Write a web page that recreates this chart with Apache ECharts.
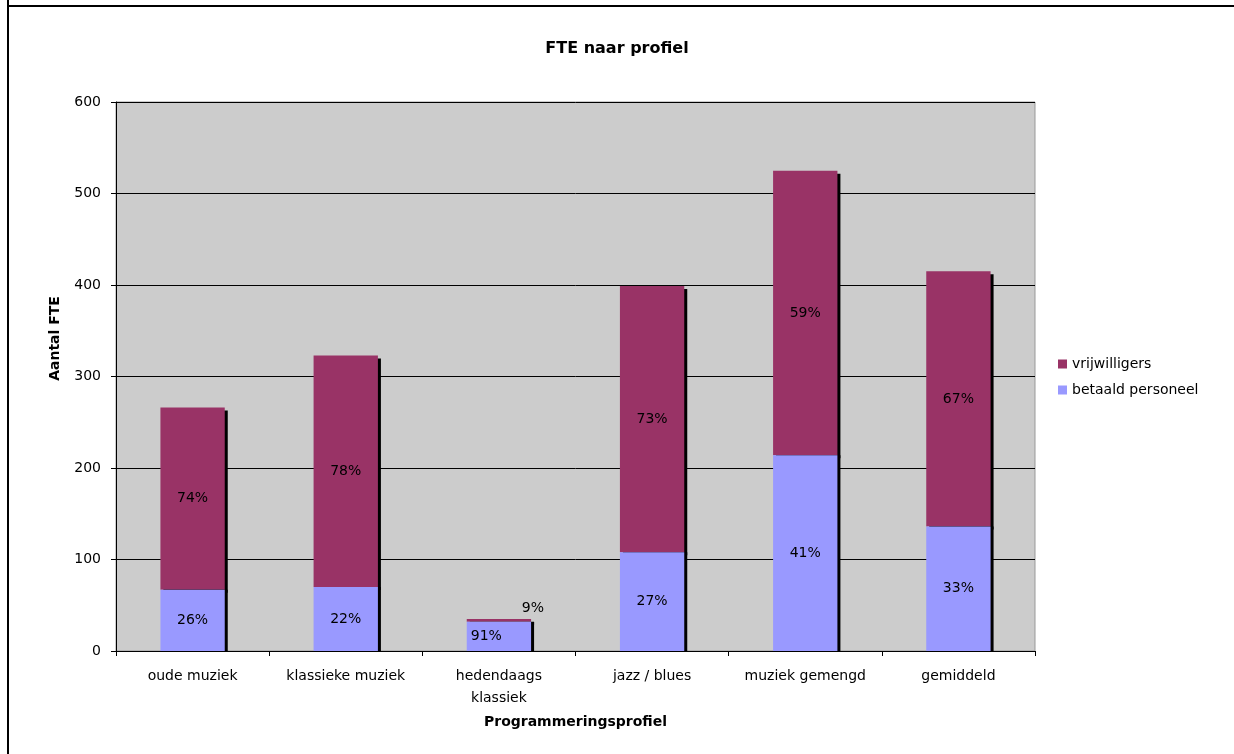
<!DOCTYPE html>
<html>
<head>
<meta charset="utf-8">
<script src="https://cdn.jsdelivr.net/npm/echarts@6/dist/echarts.min.js"></script>
<style>
  html, body { margin: 0; padding: 0; background: #fff; }
  #chart { width: 1234px; height: 754px; }
</style>
</head>
<body>
<div id="chart"></div>
<script>
// categorieen en waarden (FTE)
var categories = ["oude muziek", "klassieke muziek", "hedendaags\nklassiek", "jazz / blues", "muziek gemengd", "gemiddeld"];
var betaald = [67, 70, 32, 108, 214, 136];
var vrijwilligers = [199, 253, 3, 291, 311, 279];
// percentages zoals ze in de grafiek staan
var betaaldPct = ["26%", "22%", "91%", "27%", "41%", "33%"];
var vrijwilligersPct = ["74%", "78%", "9%", "73%", "59%", "67%"];
var yTicks = [0, 100, 200, 300, 400, 500, 600];

var font = "DejaVu Sans, Verdana, sans-serif";

var chart = echarts.init(document.getElementById("chart"));

var betaaldData = betaald.map(function (v, i) {
  var d = { value: v, pct: betaaldPct[i] };
  if (i === 2) {
    d.label = { position: "insideLeft", distance: 4 };
  }
  return d;
});
var vrijData = vrijwilligers.map(function (v, i) {
  var d = { value: v, pct: vrijwilligersPct[i] };
  if (i === 2) {
    d.label = { position: "top", distance: 4, offset: [34, 0] };
  }
  return d;
});

chart.setOption({
  animation: false,
  backgroundColor: "#fff",
  textStyle: { fontFamily: font },
  title: {
    text: "FTE naar profiel",
    left: "center",
    top: 36,
    textStyle: { fontSize: 16, fontWeight: "bold", color: "#000", fontFamily: font },
  },
  grid: {
    left: 116,
    right: 199,
    top: 102,
    bottom: 103,
    show: true,
    backgroundColor: "#CCCCCC",
    borderColor: "#999",
    borderWidth: 1,
  },
  legend: {
    orient: "vertical",
    left: 1053,
    top: 352,
    itemWidth: 9,
    itemHeight: 9,
    itemGap: 12,
    icon: "rect",
    data: ["vrijwilligers", "betaald personeel"],
    textStyle: { fontSize: 14, color: "#000", fontFamily: font },
  },
  xAxis: {
    type: "category",
    data: categories,
    name: "Programmeringsprofiel",
    nameLocation: "middle",
    nameGap: 64,
    nameTextStyle: { fontSize: 14, fontWeight: "bold", color: "#000" },
    axisLine: { lineStyle: { color: "#000", width: 1 } },
    axisTick: { show: true, length: 5, interval: 0, lineStyle: { color: "#000" } },
    axisLabel: { fontSize: 14, color: "#000", margin: 14, lineHeight: 22, interval: 0 },
  },
  yAxis: {
    type: "value",
    min: yTicks[0],
    max: yTicks[yTicks.length - 1],
    interval: 100,
    name: "Aantal FTE",
    nameLocation: "middle",
    nameGap: 54,
    nameRotate: 90,
    nameTextStyle: { fontSize: 14, fontWeight: "bold", color: "#000", padding: [0, 0, 0, 76] },
    axisLine: { show: true, lineStyle: { color: "#000", width: 1 } },
    axisTick: { show: true, length: 5, lineStyle: { color: "#000" } },
    axisLabel: { fontSize: 14, color: "#000", margin: 15 },
    splitLine: { lineStyle: { color: "#000", width: 1 } },
  },
  series: [
    {
      name: "betaald personeel",
      type: "bar",
      stack: "fte",
      barWidth: "42%",
      z: 3,
      data: betaaldData,
      itemStyle: {
        color: "#9999FF",
        shadowColor: "#000",
        shadowBlur: 0,
        shadowOffsetX: 3,
        shadowOffsetY: 0,
      },
      label: {
        show: true,
        position: "inside",
        fontSize: 14,
        color: "#000",
        fontFamily: font,
        formatter: function (p) { return p.data.pct; },
      },
    },
    {
      name: "vrijwilligers",
      type: "bar",
      stack: "fte",
      barWidth: "42%",
      z: 2,
      data: vrijData,
      itemStyle: {
        color: "#993366",
        shadowColor: "#000",
        shadowBlur: 0,
        shadowOffsetX: 3,
        shadowOffsetY: 3,
      },
      label: {
        show: true,
        position: "inside",
        fontSize: 14,
        color: "#000",
        fontFamily: font,
        formatter: function (p) { return p.data.pct; },
      },
    },
  ],
  graphic: [
    { type: "line", shape: { x1: 8, y1: 6, x2: 1234, y2: 6 }, style: { stroke: "#000", lineWidth: 2 } },
    { type: "line", shape: { x1: 8, y1: 0, x2: 8, y2: 754 }, style: { stroke: "#000", lineWidth: 2 } },
  ],
});
</script>
</body>
</html>
